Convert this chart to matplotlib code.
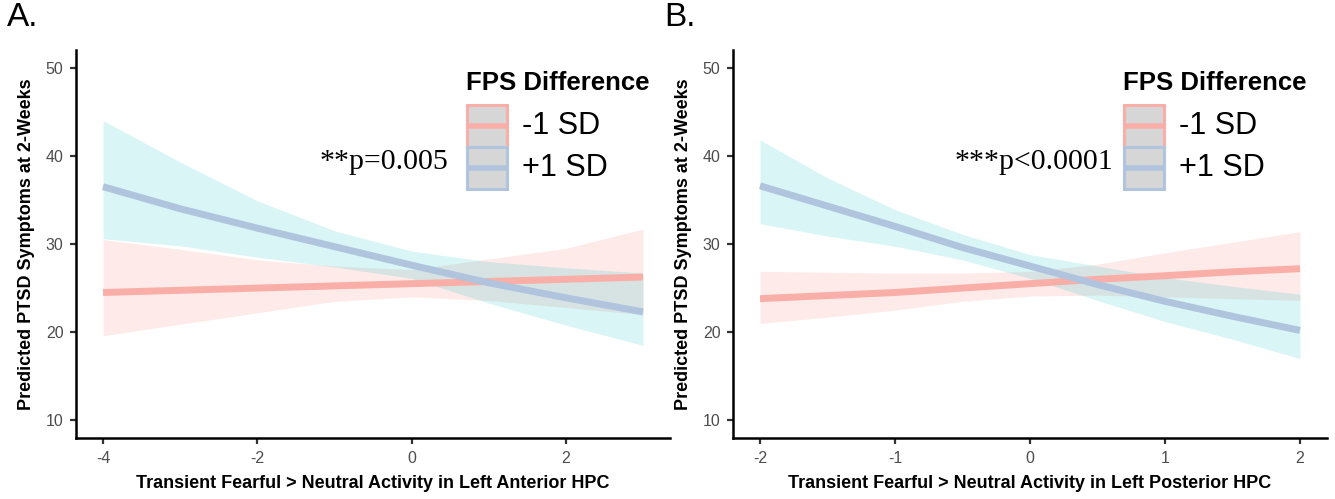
import matplotlib
matplotlib.use("Agg")
import matplotlib.pyplot as plt
from matplotlib.patches import Rectangle
from matplotlib.lines import Line2D

plt.rcParams['font.family'] = ['Liberation Sans', 'DejaVu Sans']
plt.rcParams['axes.unicode_minus'] = False

# Panel A: anterior HPC
a_x = [-4, -3, -2, -1, 0, 1, 2, 3]
a_low_fit = [24.5, 24.75, 25.0, 25.25, 25.5, 25.75, 26.0, 26.25]
a_low_upper = [30.5, 29.4, 28.2, 27.5, 27.1, 28.3, 29.5, 31.7]
a_low_lower = [19.6, 20.9, 22.2, 23.5, 24.0, 23.6, 22.8, 22.0]
a_high_fit = [36.5, 34.0, 31.8, 29.7, 27.6, 25.6, 23.9, 22.3]
a_high_upper = [44.0, 39.3, 34.9, 31.5, 29.2, 28.0, 27.3, 26.7]
a_high_lower = [30.6, 29.8, 28.5, 27.4, 26.1, 23.3, 20.8, 18.5]

# Panel B: posterior HPC
b_x = [-2, -1.5, -1, -0.5, 0, 0.5, 1, 1.5, 2]
b_low_fit = [23.8, 24.15, 24.5, 25.0, 25.5, 26.0, 26.4, 26.85, 27.2]
b_low_upper = [26.9, 26.8, 26.7, 26.7, 26.9, 27.7, 29.0, 30.2, 31.4]
b_low_lower = [21.0, 21.7, 22.5, 23.5, 24.1, 24.2, 24.0, 23.8, 23.6]
b_high_fit = [36.6, 34.3, 32.0, 29.6, 27.5, 25.4, 23.5, 21.8, 20.2]
b_high_upper = [41.8, 37.5, 33.9, 31.1, 28.8, 27.5, 26.2, 25.2, 24.3]
b_high_lower = [32.3, 30.9, 29.75, 28.2, 26.1, 23.6, 21.2, 19.2, 17.0]

legend_title = "FPS Difference"
legend_labels = ["-1 SD", "+1 SD"]
y_label = "Predicted PTSD Symptoms at 2-Weeks"

RIBBON_LOW = "#F8766D"
RIBBON_HIGH = "#00BFC4"
LINE_LOW = "#F9AFA8"
LINE_HIGH = "#B0C4DE"
KEY_FILL = "#D6D6D6"


def draw_legend(ax):
    # ggplot-style keys drawn by hand (box + fill + line)
    ax.text(0.657, 0.915, legend_title, transform=ax.transAxes, fontsize=18.5,
            fontweight='bold', va='center', ha='left')
    tops = [0.858, 0.750]
    for top, col, lab in zip(tops, [LINE_LOW, LINE_HIGH], legend_labels):
        h = 0.108
        ax.add_patch(Rectangle((0.659, top - h), 0.066, h, transform=ax.transAxes,
                               facecolor=KEY_FILL, edgecolor=col, lw=2.2,
                               clip_on=False, zorder=5))
        ax.add_line(Line2D([0.659, 0.725], [top - h / 2, top - h / 2],
                           transform=ax.transAxes, color=col, lw=4,
                           solid_capstyle='butt', clip_on=False, zorder=6))
        ax.text(0.751, top - h / 2, lab, transform=ax.transAxes, fontsize=22,
                va='center', ha='left')


def draw_panel(ax, x, lo_fit, lo_up, lo_dn, hi_fit, hi_up, hi_dn,
               xlim, xticks, xlabel, ptext, pright, letter):
    ax.fill_between(x, lo_dn, lo_up, color=RIBBON_LOW, alpha=0.15, lw=0)
    ax.fill_between(x, hi_dn, hi_up, color=RIBBON_HIGH, alpha=0.15, lw=0)
    ax.plot(x, lo_fit, color=LINE_LOW, lw=5, solid_capstyle='butt')
    ax.plot(x, hi_fit, color=LINE_HIGH, lw=5, solid_capstyle='butt')

    ax.set_xlim(xlim)
    ax.set_ylim(8, 52)
    ax.set_xticks(xticks)
    ax.set_yticks([10, 20, 30, 40, 50])
    for s in ['top', 'right']:
        ax.spines[s].set_visible(False)
    for s in ['left', 'bottom']:
        ax.spines[s].set_linewidth(1.8)
    ax.tick_params(length=4.5, width=1.6, color='#333333', labelcolor='#4D4D4D',
                   labelsize=11.5, pad=4.5)
    ax.set_xlabel(xlabel, fontsize=13, fontweight='bold', labelpad=7)
    ax.set_ylabel(y_label, fontsize=13, fontweight='bold', labelpad=8)

    ax.text(pright, 0.711, ptext, transform=ax.transAxes, fontsize=21.5,
            family='Liberation Serif', ha='right', va='center')
    draw_legend(ax)
    ax.text(-0.116, 1.083, letter, transform=ax.transAxes, fontsize=24,
            ha='left', va='center')


fig = plt.figure(figsize=(13.35, 4.99), dpi=100)
ax_a = fig.add_axes([0.05693, 0.12224, 0.44494, 0.77756])
ax_b = fig.add_axes([0.54906, 0.12224, 0.44494, 0.77756])

draw_panel(ax_a, a_x, a_low_fit, a_low_upper, a_low_lower,
           a_high_fit, a_high_upper, a_high_lower,
           (-4.35, 3.35), [-4, -2, 0, 2],
           "Transient Fearful > Neutral Activity in Left Anterior HPC",
           "**p=0.005", 0.627, "A.")
draw_panel(ax_b, b_x, b_low_fit, b_low_upper, b_low_lower,
           b_high_fit, b_high_upper, b_high_lower,
           (-2.2, 2.2), [-2, -1, 0, 1, 2],
           "Transient Fearful > Neutral Activity in Left Posterior HPC",
           "***p<0.0001", 0.640, "B.")

fig.savefig("out.png", dpi=100)
